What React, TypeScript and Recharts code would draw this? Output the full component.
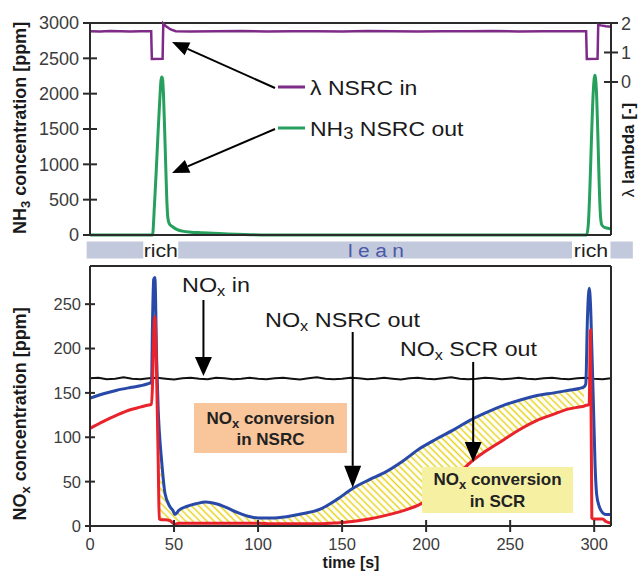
import React from "react";
import { ComposedChart, Line, Area, XAxis, YAxis, ReferenceLine } from "recharts";

const FONT = "Arial, 'Liberation Sans', Helvetica, sans-serif";
const AXIS = "#2a2a2a";
const TICK_TEXT = "#3c3c3c";

// top panel: lambda at NSRC inlet (right axis) and NH3 behind NSRC (left axis)
const lambdaTime = [0, 6, 12, 18, 24, 30, 36.4, 36.8, 43.2, 43.6, 45, 48, 51, 60, 75, 90, 105, 120, 135, 150, 165, 180, 195, 210, 225, 240, 255, 270, 285, 295.2, 295.6, 302, 302.4, 304, 307, 310];
const lambdaIn = [1.72, 1.71, 1.73, 1.72, 1.71, 1.72, 1.72, 0.78, 0.79, 1.98, 1.9, 1.78, 1.72, 1.71, 1.72, 1.73, 1.71, 1.72, 1.72, 1.71, 1.73, 1.72, 1.71, 1.72, 1.72, 1.73, 1.71, 1.72, 1.72, 1.72, 0.78, 0.79, 1.94, 1.92, 1.89, 1.87];

const nh3Time = [0, 37.2, 38.3, 39.5, 40.6, 41.6, 42.2, 42.7, 43.2, 43.7, 44.4, 45.1, 45.7, 46.4, 47.2, 49, 51.6, 55, 60, 66, 73, 82, 92, 105, 295.5, 296.5, 297.5, 298.5, 299.5, 300.4, 301.3, 302.2, 303, 303.8, 304.6, 306, 308, 310];
const nh3Out = [0, 0, 400, 950, 1500, 1950, 2180, 2235, 2200, 2000, 1500, 950, 500, 230, 160, 120, 80, 55, 40, 32, 25, 15, 6, 0, 0, 150, 700, 1450, 2050, 2260, 2050, 1400, 700, 250, 140, 110, 95, 85];

// bottom panel: NOx upstream, behind NSRC and behind SCR
const noxInTime = [0, 5, 10, 15, 20, 25, 30, 35, 40, 45, 50, 55, 60, 65, 70, 75, 80, 85, 90, 95, 100, 105, 110, 115, 120, 125, 130, 135, 140, 145, 150, 155, 160, 165, 170, 175, 180, 185, 190, 195, 200, 205, 210, 215, 220, 225, 230, 235, 240, 245, 250, 255, 260, 265, 270, 275, 280, 285, 290, 295, 300, 305, 310];
const noxIn = [166.5, 167, 165.5, 166, 167.5, 166, 165.5, 166.5, 167, 166, 165, 166.5, 167, 166, 165.5, 167, 166.5, 165.5, 166, 167, 166, 165.5, 166.5, 167, 166, 165, 166.5, 167.5, 166, 165.5, 166, 167, 166.5, 165.5, 166, 167, 166, 165, 166.5, 167, 166, 165.5, 166.5, 167.5, 166, 165.5, 166, 167, 166.5, 165.5, 166, 167, 166, 165.5, 166.5, 167, 166, 165.5, 166.5, 167, 166, 165.5, 166.5];

const outTime = [0, 8, 16, 24, 30, 34, 36.6, 37.2, 37.9, 38.6, 39.7, 40.6, 41.2, 42.6, 44.6, 47.5, 49.5, 50.5, 53, 57.5, 63, 69, 75, 81, 88, 94, 100, 108, 117, 127, 137, 147, 156, 166, 176, 186, 196, 206, 216, 226, 236, 246, 256, 266, 276, 285, 291, 294, 295, 296, 297, 297.8, 298.6, 299.5, 300.5, 301.5, 303, 305, 307, 310];
const noxNsrcOut = [144, 149, 153, 156, 158, 160, 162, 230, 278, 280, 185, 130, 108, 74, 37, 22, 17, 13, 18, 22, 25, 27, 25, 21, 15, 11, 9, 9, 10.5, 14, 19, 30, 42, 52, 61, 73, 87, 98, 108, 119, 128, 136, 142, 147, 150, 153, 155, 157, 160, 235, 268, 250, 200, 140, 70, 35, 22, 15, 13, 13];
const noxScrOut = [110, 118, 125, 131, 134, 136, 137, 160, 215, 236, 164, 71, 8, 7, 7, 6, 3, 2, 3, 3, 3, 3, 3, 3, 3, 3, 3, 2.5, 2.5, 2.5, 2.5, 3.5, 5, 8, 12, 17, 24, 36, 52, 71, 85, 97, 109, 119, 126, 132, 134, 135, 136, 136, 138, 221, 9, 8, 8, 8, 8, 8, 5, 3];

const timeTicks = [0, 50, 100, 150, 200, 250, 300];
const nh3Ticks = [0, 500, 1000, 1500, 2000, 2500, 3000];
const lambdaTicks = [0, 1, 2];
const noxTicks = [0, 50, 100, 150, 200, 250];

// rich / lean phases shown in the strip between the panels [s]
const leanStrips = [[-2, 31.7], [52.5, 286.8], [309.7, 323]];
const richLabels = [42.1, 298.1];
const leanLabel = 170;

const T_MAX = 310;
const NH3_MAX = 3000;
const LAMBDA_DOMAIN = [-5.19, 2];
const NOX_MAX = 293;
const HATCH_FROM = 41.2;
const HATCH_TO = 294;

const lambdaData = lambdaTime.map((t, i) => ({ t, v: lambdaIn[i] }));
const nh3Data = nh3Time.map((t, i) => ({ t, v: nh3Out[i] }));
const noxInData = noxInTime.map((t, i) => ({ t, v: noxIn[i] }));
const outData = outTime.map((t, i) => ({ t, nsrc: noxNsrcOut[i], scr: noxScrOut[i] }));
const hatchData = outData
  .filter((d) => d.t >= HATCH_FROM && d.t <= HATCH_TO)
  .map((d) => ({ t: d.t, band: [d.scr, d.nsrc] }));

// layout (page pixels)
const PLOT_L = 90;
const PLOT_R = 611;
const BOT_OFFSET = 240;
const BOT_Y0 = 266;
const BOT_Y1 = 526;

const sx = (t: number) => PLOT_L + (t / T_MAX) * (PLOT_R - PLOT_L);
const syNox = (v: number) => BOT_Y1 - (v / NOX_MAX) * (BOT_Y1 - BOT_Y0);

function Arrow({ x1, y1, x2, y2, head = 18, half = 8 }: any) {
  const dx = x2 - x1;
  const dy = y2 - y1;
  const len = Math.hypot(dx, dy);
  const ux = dx / len;
  const uy = dy / len;
  const bx = x2 - ux * head;
  const by = y2 - uy * head;
  const px = -uy * half;
  const py = ux * half;
  return (
    <g>
      <line x1={x1} y1={y1} x2={bx} y2={by} stroke="#000" strokeWidth={2} />
      <polygon points={`${x2},${y2} ${bx + px},${by + py} ${bx - px},${by - py}`} fill="#000" />
    </g>
  );
}

// the source figure's lettering is a little wider than Arial, so stretch it
function Wide({ x, y, k = 1.15, size = 20, fill = "#1a1a1a", anchor = "start", spacing, children }: any) {
  return (
    <text
      transform={`translate(${x} ${y}) scale(${k} 1)`}
      fontSize={size}
      fill={fill}
      textAnchor={anchor}
      letterSpacing={spacing}
    >
      {children}
    </text>
  );
}

const Sub = ({ s, size = 14, d = 4 }: any) => (
  <tspan fontSize={size} dy={d}>
    {s}
  </tspan>
);

function Overlay() {
  return (
    <svg
      width={639}
      height={571}
      style={{ position: "absolute", left: 0, top: 0, pointerEvents: "none" }}
      fontFamily={FONT}
    >
      {/* rich / lean strip */}
      {leanStrips.map(([a, b], i) => (
        <rect key={i} x={sx(a)} y={241.5} width={sx(b) - sx(a)} height={17} fill="#c3c9dc" />
      ))}
      {richLabels.map((t, i) => (
        <Wide key={i} x={sx(t)} y={256.5} k={1.12} size={19} fill="#222" anchor="middle">
          rich
        </Wide>
      ))}
      <Wide x={sx(leanLabel) + 3} y={256.5} k={1.1} size={19} fill="#4a5aa8" anchor="middle" spacing={5}>
        lean
      </Wide>

      {/* axis titles */}
      <text transform="translate(26 128) rotate(-90)" textAnchor="middle" fontSize={18} fontWeight="bold" fill="#1a1a1a">
        NH<Sub s="3" size={13} d={4} />
        <tspan dy={-4}> concentration [ppm]</tspan>
      </text>
      <text transform="translate(26 414) rotate(-90)" textAnchor="middle" fontSize={18} fontWeight="bold" fill="#1a1a1a">
        NO<Sub s="x" size={13} d={4} />
        <tspan dy={-4}> concentration [ppm]</tspan>
      </text>
      <text transform="translate(634 150) rotate(-90)" textAnchor="middle" fontSize={17} fontWeight="bold" fill="#1a1a1a">
        <tspan fontWeight="normal">λ</tspan> lambda [-]
      </text>
      <text x={351} y={567.5} textAnchor="middle" fontSize={16} fontWeight="bold" fill="#1a1a1a">
        time [s]
      </text>

      {/* top legend with arrows */}
      <line x1={278} y1={87} x2={305} y2={87} stroke="#7e2a87" strokeWidth={3} />
      <line x1={278} y1={128} x2={305} y2={128} stroke="#27a05d" strokeWidth={3} />
      <Arrow x1={275} y1={88} x2={172} y2={42} head={17} half={7} />
      <Arrow x1={275} y1={129} x2={172} y2={173} head={17} half={7} />
      <Wide x={310} y={95}>λ NSRC in</Wide>
      <Wide x={310} y={136}>
        NH<Sub s="3" size={16} d={3} />
        <tspan dy={-3}> NSRC out</tspan>
      </Wide>

      {/* bottom annotations */}
      <Wide x={182} y={292} k={1.17}>
        NO<Sub s="x" />
        <tspan dy={-4}> in</tspan>
      </Wide>
      <Arrow x1={sx(67.5)} y1={300} x2={sx(67.5)} y2={syNox(169)} head={19} half={8.5} />
      <Wide x={265} y={327} k={1.17}>
        NO<Sub s="x" />
        <tspan dy={-4}> NSRC out</tspan>
      </Wide>
      <Arrow x1={sx(156.3)} y1={332} x2={sx(156.3)} y2={syNox(43)} head={22} half={8.5} />
      <Wide x={400} y={356} k={1.16}>
        NO<Sub s="x" />
        <tspan dy={-4}> SCR out</tspan>
      </Wide>
      <Arrow x1={sx(228)} y1={362} x2={sx(228)} y2={syNox(72)} head={20} half={8.5} />

      {/* conversion boxes */}
      <rect x={194} y={403} width={153} height={50} fill="#f9c59a" />
      <text x={270.5} y={424} textAnchor="middle" fontSize={17} fontWeight="bold" fill="#222">
        NO<Sub s="x" size={13} d={4} />
        <tspan dy={-4}> conversion</tspan>
      </text>
      <text x={270.5} y={445} textAnchor="middle" fontSize={17} fontWeight="bold" fill="#222">
        in NSRC
      </text>
      <rect x={422} y={467} width={151} height={46} fill="#f5f0a2" />
      <text x={497.5} y={485} textAnchor="middle" fontSize={17} fontWeight="bold" fill="#222">
        NO<Sub s="x" size={13} d={4} />
        <tspan dy={-4}> conversion</tspan>
      </text>
      <text x={497.5} y={506.5} textAnchor="middle" fontSize={17} fontWeight="bold" fill="#222">
        in SCR
      </text>
    </svg>
  );
}

const leftTick = (axisX: number, size: number, half: number) => (p: any) => (
  <g>
    <line x1={axisX - half} x2={axisX + half} y1={p.y} y2={p.y} stroke={AXIS} strokeWidth={2} />
    <text x={axisX - half - 4} y={p.y} dy={size * 0.36} textAnchor="end" fontSize={size} fill={TICK_TEXT} fontFamily={FONT}>
      {p.payload.value}
    </text>
  </g>
);

const rightTick = (p: any) => (
  <g>
    <line x1={PLOT_R - 7} x2={PLOT_R + 7} y1={p.y} y2={p.y} stroke={AXIS} strokeWidth={2} />
    <text x={PLOT_R + 10} y={p.y} dy={6.5} fontSize={18} fill={TICK_TEXT} fontFamily={FONT}>
      {p.payload.value}
    </text>
  </g>
);

const bottomTick = (p: any) => (
  <g>
    <line x1={p.x} x2={p.x} y1={BOT_Y1 - BOT_OFFSET - 6} y2={BOT_Y1 - BOT_OFFSET + 6} stroke={AXIS} strokeWidth={2} />
    <text x={p.x} y={549.5 - BOT_OFFSET} textAnchor="middle" fontSize={16.5} fill={TICK_TEXT} fontFamily={FONT}>
      {p.payload.value}
    </text>
  </g>
);

function TopPanel() {
  return (
    <ComposedChart width={639} height={260} margin={{ top: 23, right: 0, bottom: 0, left: 0 }}>
      <XAxis
        xAxisId="t"
        dataKey="t"
        type="number"
        domain={[0, T_MAX]}
        ticks={timeTicks}
        tick={false}
        tickLine={false}
        height={25}
        axisLine={{ stroke: AXIS, strokeWidth: 2 }}
      />
      <YAxis
        yAxisId="nh3"
        domain={[0, NH3_MAX]}
        ticks={nh3Ticks}
        interval={0}
        width={90}
        tickLine={false}
        tick={leftTick(PLOT_L, 18, 7)}
        axisLine={{ stroke: AXIS, strokeWidth: 2 }}
      />
      <YAxis
        yAxisId="lambda"
        orientation="right"
        domain={LAMBDA_DOMAIN}
        ticks={lambdaTicks}
        interval={0}
        width={28}
        tickLine={false}
        tick={rightTick}
        axisLine={{ stroke: AXIS, strokeWidth: 2 }}
      />
      <ReferenceLine xAxisId="t" yAxisId="nh3" y={NH3_MAX} stroke={AXIS} strokeWidth={2} />
      <Line
        xAxisId="t"
        yAxisId="lambda"
        data={lambdaData}
        dataKey="v"
        type="linear"
        stroke="#7e2a87"
        strokeWidth={2.5}
        dot={false}
        isAnimationActive={false}
      />
      <Line
        xAxisId="t"
        yAxisId="nh3"
        data={nh3Data}
        dataKey="v"
        type="monotone"
        stroke="#27a05d"
        strokeWidth={3}
        dot={false}
        isAnimationActive={false}
      />
    </ComposedChart>
  );
}

function BottomPanel() {
  return (
    <ComposedChart width={639} height={331} margin={{ top: BOT_Y0 - BOT_OFFSET, right: 0, bottom: 0, left: 0 }}>
      <defs>
        <pattern id="hatch" width="5" height="5" patternUnits="userSpaceOnUse" patternTransform="rotate(-45)">
          <line x1="2.5" y1="0" x2="2.5" y2="5" stroke="#e6d31a" strokeWidth="1.5" />
        </pattern>
      </defs>
      <XAxis
        xAxisId="t"
        dataKey="t"
        type="number"
        domain={[0, T_MAX]}
        ticks={timeTicks}
        interval={0}
        height={45}
        tickLine={false}
        tick={bottomTick}
        axisLine={{ stroke: AXIS, strokeWidth: 2 }}
      />
      <YAxis
        yAxisId="nox"
        domain={[0, NOX_MAX]}
        ticks={noxTicks}
        interval={0}
        width={90}
        tickLine={false}
        tick={leftTick(PLOT_L, 16.5, 5)}
        axisLine={{ stroke: AXIS, strokeWidth: 2 }}
      />
      <YAxis yAxisId="frame" orientation="right" width={28} tick={false} tickLine={false} axisLine={{ stroke: AXIS, strokeWidth: 2 }} />
      <ReferenceLine xAxisId="t" yAxisId="nox" y={NOX_MAX} stroke={AXIS} strokeWidth={2} />
      <Area
        xAxisId="t"
        yAxisId="nox"
        data={hatchData}
        dataKey="band"
        type="monotone"
        stroke="none"
        fill="url(#hatch)"
        fillOpacity={1}
        isAnimationActive={false}
      />
      <Line
        xAxisId="t"
        yAxisId="nox"
        data={noxInData}
        dataKey="v"
        type="linear"
        stroke="#111"
        strokeWidth={2}
        dot={false}
        isAnimationActive={false}
      />
      <Line
        xAxisId="t"
        yAxisId="nox"
        data={outData}
        dataKey="nsrc"
        type="monotone"
        stroke="#2849a8"
        strokeWidth={3}
        dot={false}
        isAnimationActive={false}
      />
      <Line
        xAxisId="t"
        yAxisId="nox"
        data={outData}
        dataKey="scr"
        type="monotone"
        stroke="#e8232b"
        strokeWidth={3}
        dot={false}
        isAnimationActive={false}
      />
    </ComposedChart>
  );
}

export default function App() {
  return (
    <div style={{ position: "absolute", left: 0, top: 0, width: 639, height: 571, background: "#fff", fontFamily: FONT }}>
      <div style={{ position: "absolute", left: 0, top: 0 }}>
        <TopPanel />
      </div>
      <div style={{ position: "absolute", left: 0, top: BOT_OFFSET }}>
        <BottomPanel />
      </div>
      <Overlay />
    </div>
  );
}
